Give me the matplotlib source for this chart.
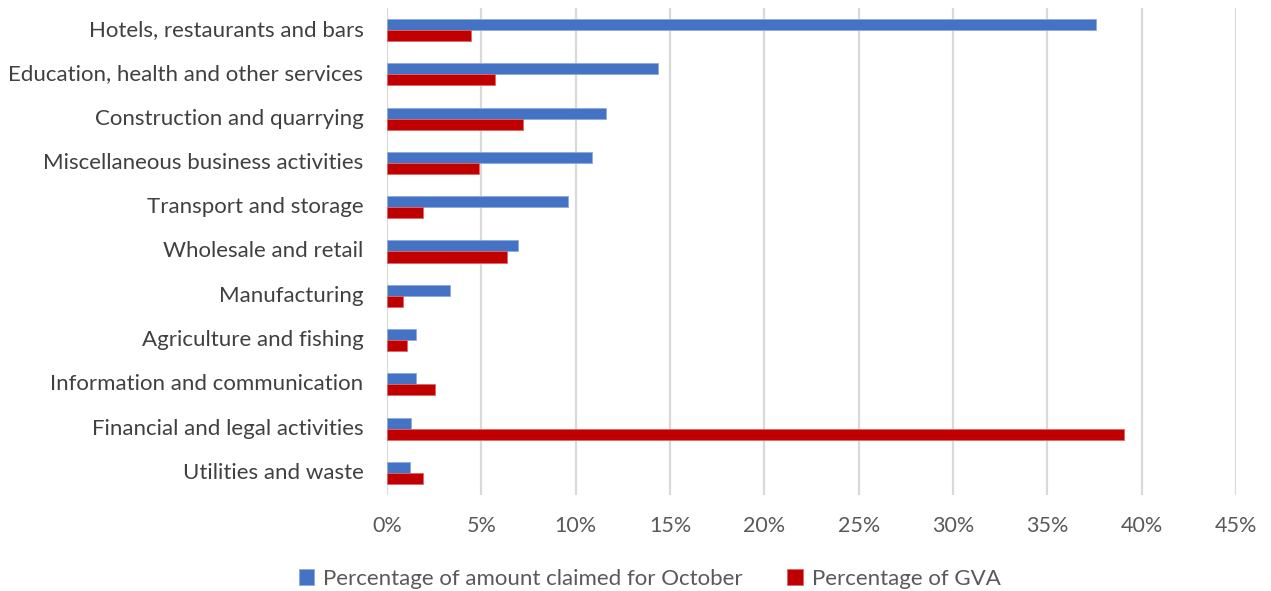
import numpy as np
import matplotlib
matplotlib.use("Agg")
import matplotlib.pyplot as plt
from matplotlib.ticker import FuncFormatter

# Sectors, top to bottom as shown
sectors = [
    "Hotels, restaurants and bars",
    "Education, health and other services",
    "Construction and quarrying",
    "Miscellaneous business activities",
    "Transport and storage",
    "Wholesale and retail",
    "Manufacturing",
    "Agriculture and fishing",
    "Information and communication",
    "Financial and legal activities",
    "Utilities and waste",
]

# shares, in percent
claimed_october = [37.6, 14.35, 11.6, 10.88, 9.61, 6.96, 3.32, 1.55, 1.52, 1.26, 1.2]
gva_share = [4.45, 5.72, 7.22, 4.88, 1.89, 6.36, 0.83, 1.04, 2.53, 39.06, 1.89]

x_ticks = [0, 5, 10, 15, 20, 25, 30, 35, 40, 45]

plt.rcParams['font.family'] = ['Lato', 'DejaVu Sans']

fig = plt.figure(figsize=(12.71, 5.91), dpi=100)
ax = fig.add_axes([0.3045, 0.1624, 0.668, 0.8243])

y = np.arange(len(sectors))
h = 0.25
ax.barh(y - h / 2, np.array(claimed_october) / 100, height=h, color='#4472C4',
        edgecolor='#8faadc', linewidth=0.6, label='Percentage of amount claimed for October', zorder=3)
ax.barh(y + h / 2, np.array(gva_share) / 100, height=h, color='#C00000',
        edgecolor='#e06666', linewidth=0.6, label='Percentage of GVA', zorder=3)

ax.set_ylim(len(sectors) - 0.5, -0.5)
ax.set_xlim(0, 0.45)
ax.set_yticks(y)
ax.set_yticklabels(sectors, fontsize=16, color='#404040', va='center')
ax.set_xticks(np.array(x_ticks) / 100)
ax.xaxis.set_major_formatter(FuncFormatter(lambda v, p: f"{v * 100:.0f}%"))
ax.tick_params(axis='x', labelsize=15.5, colors='#595959', length=0, pad=15)
ax.tick_params(axis='y', length=0, pad=17)

ax.grid(axis='x', color='#d9d9d9', linewidth=1.6, zorder=0)
for s in ax.spines.values():
    s.set_visible(False)

fig.legend(loc='lower center', bbox_to_anchor=(0.511, -0.03), ncol=2, frameon=False,
           fontsize=16, labelcolor='#595959', handlelength=0.7, handleheight=0.7,
           handletextpad=0.4, columnspacing=2.0)

fig.savefig('out.png', dpi=100)
